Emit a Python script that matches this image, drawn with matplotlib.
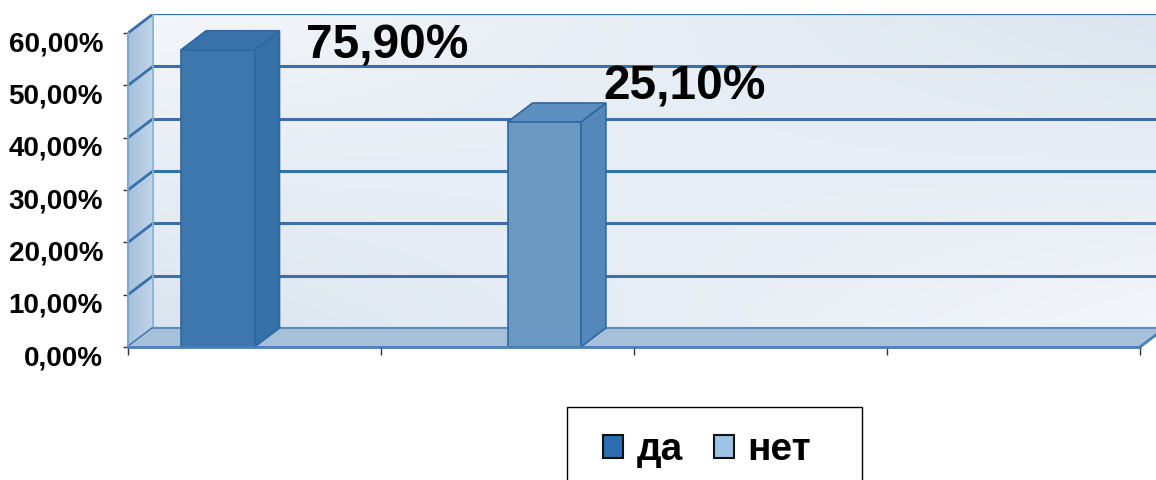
import matplotlib
matplotlib.use('Agg')
import matplotlib.pyplot as plt
import matplotlib.patches as patches
import matplotlib.transforms as mtransforms
from matplotlib.ticker import FuncFormatter
import numpy as np

categories = ['да', 'нет']
values = [0.568, 0.430]          # bar heights
labels = ['75,90%', '25,10%']    # data labels as printed on the chart
yticks = [0.0, 0.1, 0.2, 0.3, 0.4, 0.5, 0.6]

# colours
front_cols = ['#3E77AE', '#6A98C3']
side_cols = ['#3570A6', '#5588BA']
top_cols = ['#3872A8', '#5C8EBF']
legend_cols = ['#2E6DB0', '#9DC3E6']
edge_col = '#2F68A0'
grid_col = '#3A70AA'

W, H, DPI = 1156, 480, 100

def fmt_pct(v, pos=None):
    return ('%.2f%%' % (v * 100)).replace('.', ',')

def main():
    fig = plt.figure(figsize=(W / DPI, H / DPI), dpi=DPI)

    # layout in pixels
    x0_px, y0_px = 128, 347
    px_cat = 253.0
    px_unit = 523.3
    n_slots = 4
    dx = 25 / px_cat
    dy = 19 / px_unit
    ymax_front = yticks[-1]
    xmax = n_slots + dx
    ymax = ymax_front + dy

    ax = fig.add_axes([x0_px / W, (H - y0_px) / H,
                       xmax * px_cat / W, ymax * px_unit / H])
    ax.set_xlim(0, xmax)
    ax.set_ylim(0, ymax)
    ax.patch.set_visible(False)

    # back wall gradient
    nx, ny = 200, 100
    gx, gy = np.meshgrid(np.linspace(0, 1, nx), np.linspace(0, 1, ny))
    t = gx * gy + (1 - gx) * (1 - gy)
    light = np.array([0.953, 0.965, 0.980])
    dark = np.array([0.860, 0.898, 0.937])
    img = light[None, None, :] * (1 - t[..., None]) + dark[None, None, :] * t[..., None]
    ax.imshow(img, extent=[dx, xmax, dy, ymax], origin='lower',
              aspect='auto', zorder=0, interpolation='bilinear')
    ax.set_xlim(0, xmax)
    ax.set_ylim(0, ymax)
    ax.plot([dx, dx], [dy, ymax], color='#8DB2D8', lw=1.2, zorder=1)

    # gridlines on back wall and side wall
    for v in yticks:
        lw = 2.2 if v < ymax_front else 1.6
        ax.plot([dx, xmax], [v + dy, v + dy], color=grid_col, lw=lw, zorder=2,
                solid_capstyle='butt')

    # side wall with gradient
    side = patches.Polygon([(0, 0), (dx, dy), (dx, ymax), (0, ymax_front)],
                           closed=True, facecolor='none', edgecolor='none', zorder=3)
    ax.add_patch(side)
    sgrad = np.linspace(0, 1, 50)[None, :]
    c_left = np.array([0.640, 0.752, 0.860])
    c_right = np.array([0.760, 0.835, 0.910])
    simg = c_left[None, None, :] * (1 - sgrad[..., None]) + c_right[None, None, :] * sgrad[..., None]
    simg = np.repeat(simg, 2, axis=0)
    im = ax.imshow(simg, extent=[0, dx, 0, ymax], origin='lower', aspect='auto',
                   zorder=3, interpolation='bilinear')
    im.set_clip_path(side)
    ax.set_xlim(0, xmax)
    ax.set_ylim(0, ymax)
    for v in yticks:
        ax.plot([0, dx], [v, v + dy], color=grid_col, lw=2.0, zorder=4)
    ax.plot([dx, dx], [dy, ymax], color='#8DB2D8', lw=1.2, zorder=4)

    # floor
    floor = patches.Polygon([(0, 0), (n_slots, 0), (n_slots + dx, dy), (dx, dy)],
                            closed=True, facecolor='#A7C0DA', edgecolor='none', zorder=4)
    ax.add_patch(floor)
    ax.plot([dx, n_slots + dx], [dy, dy], color='#5A8CC0', lw=1.5, zorder=4)
    ax.plot([n_slots, n_slots + dx], [0, dy], color='#4A7EB8', lw=2, zorder=4)

    # bars
    bar_x = [0.21, 1.50]
    bar_w = 0.29
    ax.bar(bar_x, values, width=bar_w, align='edge', color=front_cols,
           edgecolor=edge_col, linewidth=1.2, zorder=6)
    for i, (x, h) in enumerate(zip(bar_x, values)):
        sidep = patches.Polygon([(x + bar_w, 0), (x + bar_w + dx, dy),
                                 (x + bar_w + dx, h + dy), (x + bar_w, h)],
                                closed=True, facecolor=side_cols[i],
                                edgecolor=edge_col, lw=1.2, zorder=5)
        topp = patches.Polygon([(x, h), (x + dx, h + dy), (x + bar_w + dx, h + dy),
                                (x + bar_w, h)],
                               closed=True, facecolor=top_cols[i],
                               edgecolor=edge_col, lw=1.2, zorder=5)
        ax.add_patch(sidep)
        ax.add_patch(topp)

    # data labels
    label_off = [(27, -28), (-2, 3)]
    for i, (x, h) in enumerate(zip(bar_x, values)):
        ax.annotate(labels[i], xy=(x + bar_w + dx, h + dy), xytext=label_off[i],
                    textcoords='offset pixels', ha='left', va='baseline',
                    fontsize=34.5, fontweight='bold', family='Liberation Sans',
                    zorder=8, annotation_clip=False)

    # axes, ticks
    for s in ['top', 'right']:
        ax.spines[s].set_visible(False)
    ax.spines['left'].set_bounds(0, ymax_front)
    ax.spines['left'].set_color('#7FA6CF')
    ax.spines['left'].set_linewidth(1.5)
    ax.spines['left'].set_zorder(7)
    ax.spines['bottom'].set_bounds(0, n_slots)
    ax.spines['bottom'].set_color('#4A7EB8')
    ax.spines['bottom'].set_linewidth(2)
    ax.spines['bottom'].set_zorder(7)

    ax.set_yticks(yticks)
    ax.yaxis.set_major_formatter(FuncFormatter(fmt_pct))
    ax.tick_params(axis='y', direction='out', length=3.6, width=1, color='#333333',
                   pad=14.4, labelsize=20)
    ax.set_xticks(range(n_slots + 1))
    ax.set_xticklabels([])
    ax.tick_params(axis='x', direction='out', length=5.8, width=1, color='#333333')
    shift = mtransforms.ScaledTranslation(0, -8 / DPI, fig.dpi_scale_trans)
    for lab in ax.get_yticklabels():
        lab.set_fontweight('bold')
        lab.set_family('Liberation Sans')
        lab.set_transform(lab.get_transform() + shift)

    # legend with box
    handles = [patches.Patch(facecolor=legend_cols[i], edgecolor='#111111', lw=1.5,
                             label=categories[i]) for i in range(len(categories))]
    fig.legend(handles=handles, loc='center', bbox_to_anchor=(707 / W, 1 - 450 / H),
               ncol=2, frameon=False, handlelength=0.52, handleheight=0.52,
               handletextpad=0.35, columnspacing=0.8,
               prop={'family': 'Liberation Sans', 'weight': 'bold', 'size': 28})
    fig.patches.append(patches.Rectangle((567 / W, -0.05), 295 / W, 0.05 + 73 / H,
                                         transform=fig.transFigure, fill=False,
                                         edgecolor='black', lw=1))

    fig.savefig('out.png', dpi=DPI)

if __name__ == '__main__':
    main()
